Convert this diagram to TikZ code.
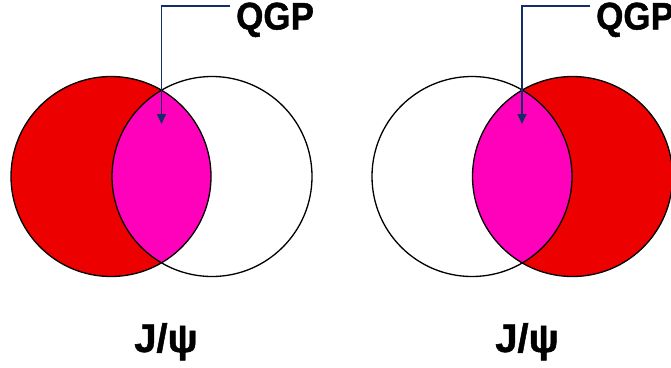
\documentclass[tikz,border=0pt]{standalone}
\usepackage{fontspec}
\setmainfont{Liberation Sans}
\newfontfamily\heavyfont[FakeBold=1.2]{Liberation Sans Bold}
\usetikzlibrary{arrows.meta}
\definecolor{vred}{RGB}{236,0,0}
\definecolor{vmag}{RGB}{255,0,187}
\definecolor{navy}{RGB}{20,45,105}
\tikzset{
  ring/.style={draw=black,line width=1.3pt},
  lbl/.style={font=\heavyfont\fontsize{35}{35}\selectfont,inner sep=0pt},
  jlbl/.style={font=\heavyfont\fontsize{40}{40}\selectfont,inner sep=0pt},
  pointer/.style={draw=navy,line width=1.6pt,-{Triangle[length=10pt,width=9pt]}}
}
\begin{document}
\begin{tikzpicture}[x=1pt,y=-1pt]
\useasboundingbox (0,0) rectangle (671,367);
% left diagram
\fill[vred] (111,176.5) circle (100);
\begin{scope}
  \clip (111,176.5) circle (100);
  \fill[vmag] (212,176.5) circle (100);
\end{scope}
\draw[ring] (111,176.5) circle (100);
\draw[ring] (212,176.5) circle (100);
% right diagram
\fill[vred] (572.5,176.5) circle (100);
\begin{scope}
  \clip (572.5,176.5) circle (100);
  \fill[vmag] (472,176.5) circle (100);
\end{scope}
\draw[ring] (472,176.5) circle (100);
\draw[ring] (572.5,176.5) circle (100);
% labels
\node[lbl,anchor=base west] (qgpL) at (236,29.5) {\scalebox{1}[1.1]{QGP}};
\node[lbl,anchor=base west] (qgpR) at (596,29.5) {\scalebox{1}[1.1]{QGP}};
\node[jlbl,anchor=base] (jL) at (166,352) {J/ψ};
\node[jlbl,anchor=base] (jR) at (527,352) {J/ψ};
% pointers
\coordinate (sL) at (230,6);
\coordinate (cL) at (161.5,6);
\coordinate (eL) at (161.5,124);
\coordinate (sR) at (590,6);
\coordinate (cR) at (522,6);
\coordinate (eR) at (522,124);
\draw[pointer] (sL) -- (cL) -- (eL);
\draw[pointer] (sR) -- (cR) -- (eR);
\end{tikzpicture}
\end{document}
